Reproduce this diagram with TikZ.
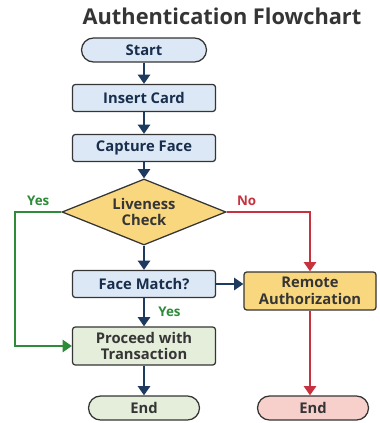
\documentclass[tikz,border=0pt]{standalone}
\usepackage{fontspec}
\setmainfont{Open Sans}
\usepackage{tikz}
\usetikzlibrary{shapes.geometric,arrows.meta}
\definecolor{flownavy}{HTML}{1E3A5F}
\definecolor{flowblue}{HTML}{DCE8F5}
\definecolor{flowyellow}{HTML}{F9D77E}
\definecolor{flowgreen}{HTML}{E4EEDA}
\definecolor{flowpink}{HTML}{F7D0CB}
\definecolor{flowgray}{HTML}{353535}
\definecolor{yesgreen}{HTML}{2E8B3A}
\definecolor{nored}{HTML}{C8323E}

\begin{document}
\begin{tikzpicture}[
  font=\bfseries\fontsize{10.5}{12}\selectfont,
  box/.style={draw=flowgray, line width=0.9pt, rectangle, rounded corners=2pt, align=center, inner sep=0pt},
  stepbox/.style={box, fill=flowblue, text=flownavy!80!black, minimum width=3.575cm, minimum height=0.675cm},
  terminal/.style={box, rounded corners=0.3cm, minimum width=2.775cm, minimum height=0.6cm, text=flowgray},
  decision/.style={draw=flowgray, line width=0.9pt, diamond, aspect=2.5, inner sep=0pt, fill=flowyellow, text=flowgray, align=center, minimum width=4.1cm, minimum height=1.65cm},
  flow/.style={line width=1.8pt, -{Triangle[width=8.5pt,length=6.5pt]}},
  lab/.style={font=\bfseries\fontsize{9.5}{11}\selectfont}
]
\useasboundingbox (0,0) rectangle (9.475,-10.575);
\fill[white] (0,0) rectangle (9.475,-10.575);

\node[font=\bfseries\fontsize{15.5}{18}\selectfont, text=flowgray] (title) at (5.55,-0.4) {Authentication Flowchart};

\node[terminal, fill=flowblue, text=flownavy!80!black, minimum width=3.125cm] (start) at (3.6,-1.25) {Start};
\node[stepbox] (insert) at (3.6,-2.45) {Insert Card};
\node[stepbox] (capture) at (3.6,-3.7) {Capture Face};
\node[decision] (live) at (3.6,-5.3) {Liveness\\Check};
\node[stepbox] (match) at (3.6,-7.1) {Face Match?};
\node[box, fill=flowyellow, text=flowgray, minimum width=3.3cm, minimum height=0.95cm] (remote) at (7.75,-7.275) {Remote\\Authorization};
\node[box, fill=flowgreen, text=flowgray, minimum width=3.575cm, minimum height=0.95cm] (proceed) at (3.6,-8.65) {Proceed with\\Transaction};
\node[terminal, fill=flowgreen] (endok) at (3.6,-10.2) {End};
\node[terminal, fill=flowpink] (endfail) at (7.825,-10.2) {End};

\coordinate (yesbend) at (0.375,-5.3);

\draw[flow, flownavy] (start) -- (insert);
\draw[flow, flownavy] (insert) -- (capture);
\draw[flow, flownavy] (capture) -- (live);
\draw[flow, flownavy] (live) -- (match);
\draw[flow, flownavy] (match) -- (remote.west |- match);
\draw[flow, flownavy] (match) -- (proceed) node[midway, right, lab, text=yesgreen, xshift=6pt] {Yes};
\draw[flow, flownavy] (proceed) -- (endok);
\draw[flow, yesgreen] (live.west) -- (yesbend) node[midway, above, lab] {Yes} |- (proceed.west);
\draw[flow, nored] (live.east) -| (remote.north) node[pos=0.12, above, lab] {No};
\draw[flow, nored] (remote) -- (endfail.north -| remote);
\end{tikzpicture}
\end{document}
